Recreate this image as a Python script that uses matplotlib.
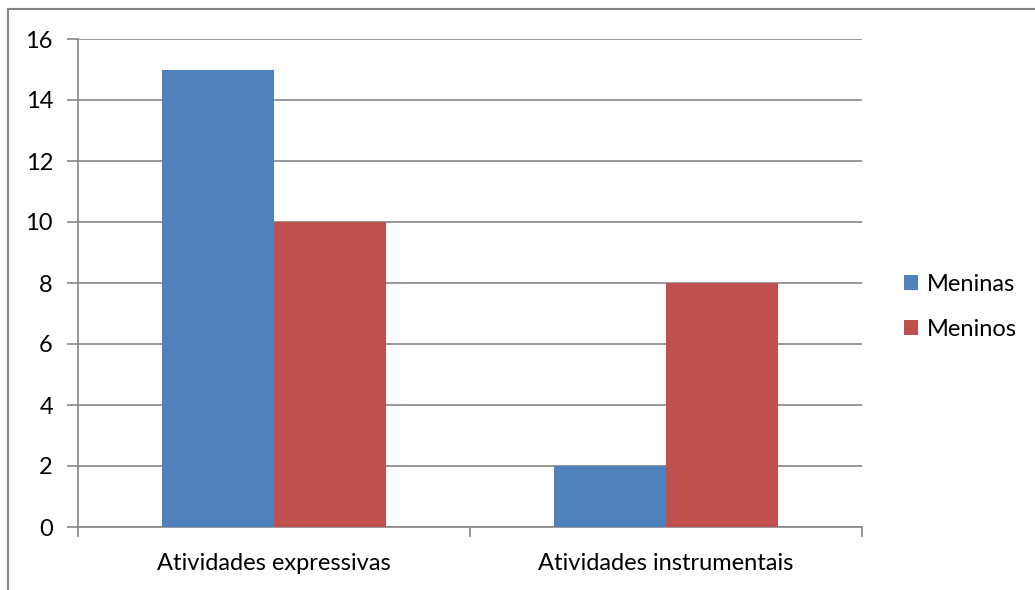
import matplotlib.pyplot as plt
import numpy as np
from matplotlib.patches import Rectangle

# Grouped bar chart: activity type by gender
categories = ["Atividades expressivas", "Atividades instrumentais"]
series_names = ["Meninas", "Meninos"]
meninas = [15, 2]
meninos = [10, 8]
y_ticks = [0, 2, 4, 6, 8, 10, 12, 14, 16]

colors = ["#4F81BD", "#C0504D"]
grid_color = "#868686"

plt.rcParams['font.family'] = ['Lato', 'DejaVu Sans']

fig = plt.figure(figsize=(10.35, 5.9), dpi=100)
ax = fig.add_axes([78 / 1035, 1 - 527 / 590, 784 / 1035, 488 / 590])

x = np.arange(len(categories))
width = 0.286
ax.bar(x - width / 2, meninas, width, color=colors[0], label=series_names[0], zorder=3)
ax.bar(x + width / 2, meninos, width, color=colors[1], label=series_names[1], zorder=3)

ax.set_xlim(-0.5, len(categories) - 0.5)
ax.set_ylim(0, 16)
ax.set_yticks(y_ticks)
ax.set_yticklabels([str(v) for v in y_ticks], fontsize=17)
ax.yaxis.grid(True, color=grid_color, linewidth=1.2, zorder=0)

# category labels sit between the boundary ticks
ax.set_xticks(x)
ax.set_xticklabels(categories, fontsize=17)
ax.tick_params(axis='x', length=0, pad=19)
ax.set_xticks(np.arange(len(categories) + 1) - 0.5, minor=True)
ax.tick_params(axis='x', which='minor', length=7, color=grid_color, width=1.2)
ax.tick_params(axis='y', length=8, color=grid_color, width=1.2, pad=10)

for side in ['top', 'right']:
    ax.spines[side].set_visible(False)
for side in ['left', 'bottom']:
    ax.spines[side].set_color(grid_color)
    ax.spines[side].set_linewidth(1.2)

ax.legend(loc='center left', bbox_to_anchor=(1.038, 0.451), frameon=False,
          fontsize=17, handlelength=0.6, handleheight=0.6, labelspacing=1.0,
          handletextpad=0.4, borderpad=0)

# outer chart border
fig.patches.append(Rectangle((8 / 1035, -0.05), 1.1, 1 - 9 / 590 + 0.05,
                             transform=fig.transFigure, fill=False,
                             edgecolor=grid_color, linewidth=1.5))

fig.savefig("out.png", dpi=100)
